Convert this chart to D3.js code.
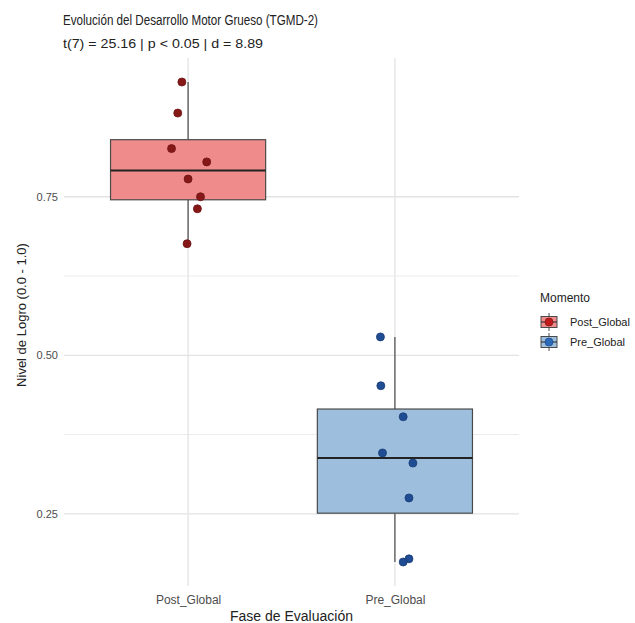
<!DOCTYPE html>
<html>
<head>
<meta charset="utf-8">
<title>Evolución del Desarrollo Motor Grueso</title>
<script src="https://cdn.jsdelivr.net/npm/d3@7"></script>
<style>
  body { margin: 0; background: #fff; }
  text { font-family: "Liberation Sans", Arial, sans-serif; }
</style>
</head>
<body>
<div id="chart"></div>
<script>
  // data
  var categories = ["Post_Global", "Pre_Global"];
  var postValues = [0.931, 0.882, 0.826, 0.805, 0.778, 0.750, 0.731, 0.676];
  var preValues  = [0.529, 0.452, 0.403, 0.346, 0.330, 0.275, 0.179, 0.174];
  // horizontal jitter, in category units
  var postJitter = [-0.03, -0.05, -0.08, 0.09, 0.00, 0.06, 0.045, -0.005];
  var preJitter  = [-0.07, -0.068, 0.04, -0.06, 0.087, 0.068, 0.068, 0.04];
  var yTicks = [0.25, 0.50, 0.75];

  var fills = { Post_Global: "#f08b8b", Pre_Global: "#9dbfdd" };
  var dots  = { Post_Global: "#861818", Pre_Global: "#1f4c92" };
  var keyDots = { Post_Global: "#c21a1a", Pre_Global: "#2a6ab8" };

  var width = 635, height = 623;
  var panel = { left: 64, right: 519, top: 58, bottom: 586 };

  var svg = d3.select("#chart").append("svg")
      .attr("width", width)
      .attr("height", height);

  // discrete x, positions 1..n with 0.6 expansion like ggplot
  var x = d3.scaleLinear()
      .domain([0.4, categories.length + 0.6])
      .range([panel.left, panel.right]);

  var allValues = postValues.concat(preValues);
  var ext = d3.extent(allValues), pad = (ext[1] - ext[0]) * 0.05;
  var y = d3.scaleLinear()
      .domain([ext[0] - pad, ext[1] + pad])
      .range([panel.bottom, panel.top]);

  // grid
  var minor = [];
  for (var i = 0; i < yTicks.length - 1; i++) minor.push((yTicks[i] + yTicks[i + 1]) / 2);
  svg.append("g").selectAll("line.minor").data(minor).enter().append("line")
      .attr("x1", panel.left).attr("x2", panel.right)
      .attr("y1", function(d) { return y(d); }).attr("y2", function(d) { return y(d); })
      .attr("stroke", "#ececec").attr("stroke-width", 1);
  svg.append("g").selectAll("line.major").data(yTicks).enter().append("line")
      .attr("x1", panel.left).attr("x2", panel.right)
      .attr("y1", function(d) { return y(d); }).attr("y2", function(d) { return y(d); })
      .attr("stroke", "#e3e3e3").attr("stroke-width", 1.3);
  svg.append("g").selectAll("line.vgrid").data(categories).enter().append("line")
      .attr("x1", function(d, i) { return x(i + 1); }).attr("x2", function(d, i) { return x(i + 1); })
      .attr("y1", panel.top).attr("y2", panel.bottom)
      .attr("stroke", "#e3e3e3").attr("stroke-width", 1.3);

  // axes (labels only, like theme_minimal)
  var yAxis = svg.append("g")
      .attr("transform", "translate(" + (panel.left - 3) + ",0)")
      .call(d3.axisLeft(y).tickValues(yTicks).tickFormat(d3.format(".2f")).tickSize(0));
  yAxis.select(".domain").remove();
  yAxis.selectAll("text").attr("fill", "#4d4d4d").style("font-size", "11px");

  var xAxis = svg.append("g")
      .attr("transform", "translate(0," + (panel.bottom + 6) + ")")
      .call(d3.axisBottom(x).tickValues(categories.map(function(d, i) { return i + 1; }))
        .tickFormat(function(d) { return categories[d - 1]; }).tickSize(0));
  xAxis.select(".domain").remove();
  xAxis.selectAll("text").attr("fill", "#4d4d4d").style("font-size", "12px");

  // boxplots
  var groups = [
    { key: "Post_Global", values: postValues, jitter: postJitter },
    { key: "Pre_Global", values: preValues, jitter: preJitter }
  ];
  var boxHalf = 0.375;

  groups.forEach(function(g, i) {
    var s = g.values.slice().sort(d3.ascending);
    var q1 = d3.quantile(s, 0.25), med = d3.quantile(s, 0.5), q3 = d3.quantile(s, 0.75);
    var iqr = q3 - q1;
    var lo = d3.min(s.filter(function(v) { return v >= q1 - 1.5 * iqr; }));
    var hi = d3.max(s.filter(function(v) { return v <= q3 + 1.5 * iqr; }));
    var cx = x(i + 1);
    var bg = svg.append("g");

    bg.append("line")
        .attr("x1", cx).attr("x2", cx).attr("y1", y(hi)).attr("y2", y(q3))
        .attr("stroke", "#4a4a4a").attr("stroke-width", 1.2);
    bg.append("line")
        .attr("x1", cx).attr("x2", cx).attr("y1", y(q1)).attr("y2", y(lo))
        .attr("stroke", "#4a4a4a").attr("stroke-width", 1.2);
    bg.append("rect")
        .attr("x", x(i + 1 - boxHalf)).attr("width", x(i + 1 + boxHalf) - x(i + 1 - boxHalf))
        .attr("y", y(q3)).attr("height", y(q1) - y(q3))
        .attr("fill", fills[g.key]).attr("stroke", "#4a4a4a").attr("stroke-width", 1.2);
    bg.append("line")
        .attr("x1", x(i + 1 - boxHalf)).attr("x2", x(i + 1 + boxHalf))
        .attr("y1", y(med)).attr("y2", y(med))
        .attr("stroke", "#222").attr("stroke-width", 2);

    bg.selectAll("circle").data(g.values).enter().append("circle")
        .attr("cx", function(d, j) { return x(i + 1 + g.jitter[j]); })
        .attr("cy", function(d) { return y(d); })
        .attr("r", 4)
        .attr("fill", dots[g.key])
        .attr("stroke", d3.color(dots[g.key]).darker(0.6)).attr("stroke-width", 0.8);
  });

  // titles
  svg.append("text").attr("x", 63).attr("y", 25)
      .attr("fill", "#222").style("font-size", "14px")
      .attr("textLength", 255).attr("lengthAdjust", "spacingAndGlyphs")
      .text("Evolución del Desarrollo Motor Grueso (TGMD-2)");
  svg.append("text").attr("x", 63).attr("y", 48)
      .attr("fill", "#222").style("font-size", "12px")
      .attr("textLength", 200).attr("lengthAdjust", "spacingAndGlyphs")
      .text("t(7) = 25.16 | p < 0.05 | d = 8.89");

  svg.append("text")
      .attr("x", (panel.left + panel.right) / 2).attr("y", 621)
      .attr("text-anchor", "middle").attr("fill", "#222").style("font-size", "14px")
      .text("Fase de Evaluación");
  svg.append("text")
      .attr("transform", "translate(26," + ((panel.top + panel.bottom) / 2 - 7) + ") rotate(-90)")
      .attr("text-anchor", "middle").attr("fill", "#222").style("font-size", "13px")
      .text("Nivel de Logro (0.0 - 1.0)");

  // legend
  var legend = svg.append("g").attr("transform", "translate(540,0)");
  legend.append("text").attr("x", 0).attr("y", 302)
      .attr("fill", "#222").style("font-size", "12px").text("Momento");
  var items = legend.selectAll("g.item").data(categories).enter().append("g")
      .attr("transform", function(d, i) { return "translate(0," + (313 + i * 20) + ")"; });
  items.append("line").attr("x1", 9).attr("x2", 9).attr("y1", 0).attr("y2", 18)
      .attr("stroke", "#4a4a4a").attr("stroke-width", 1);
  items.append("rect").attr("x", 1).attr("y", 3.5).attr("width", 16).attr("height", 11)
      .attr("fill", function(d) { return fills[d]; })
      .attr("stroke", "#4a4a4a").attr("stroke-width", 1);
  items.append("line").attr("x1", 1).attr("x2", 17).attr("y1", 9).attr("y2", 9)
      .attr("stroke", "#222").attr("stroke-width", 1);
  items.append("circle").attr("cx", 9).attr("cy", 9).attr("r", 4)
      .attr("fill", function(d) { return keyDots[d]; })
      .attr("stroke", function(d) { return dots[d]; }).attr("stroke-width", 0.8);
  items.append("text").attr("x", 30).attr("y", 13)
      .attr("fill", "#222").style("font-size", "11px")
      .text(function(d) { return d; });
</script>
</body>
</html>
